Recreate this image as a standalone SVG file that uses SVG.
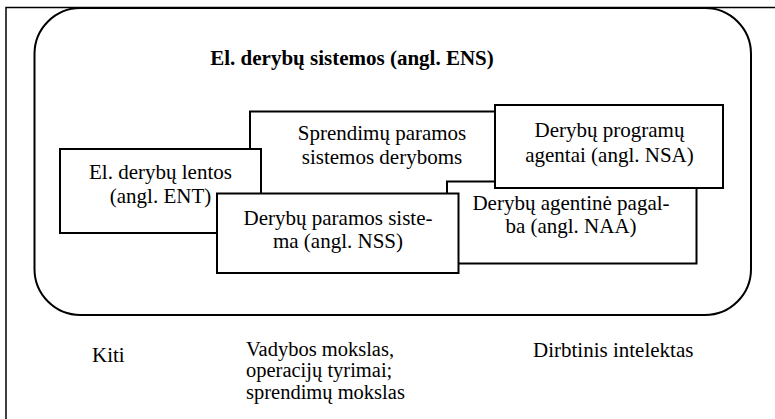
<svg xmlns="http://www.w3.org/2000/svg" width="775" height="419" viewBox="0 0 775 419">
  <style>
    .box { fill: #fff; stroke: #000; stroke-width: 2; }
  </style>
  <rect width="775" height="419" fill="#fff"/>
  <!-- page frame (continues past the right and bottom edges) -->
  <rect x="6" y="7.5" width="800" height="450" fill="none" stroke="#000" stroke-width="1.5"/>
  <!-- ENS area -->
  <g id="ens">
    <rect class="box" x="34.5" y="8" width="716.5" height="307" rx="46" ry="46"/>
    <text x="352" y="65" text-anchor="middle" font-weight="bold" font-family="Liberation Serif" font-size="21">El. dery&#98;&#371; sistemos (angl. ENS)</text>
  </g>
  <g id="sprendimu-paramos">
    <rect class="box" x="250" y="111.5" width="264" height="110"/>
    <text x="382" y="139.5" text-anchor="middle" font-family="Liberation Serif" font-size="21">Sprendim&#371; paramos</text>
    <text x="382" y="163.5" text-anchor="middle" font-family="Liberation Serif" font-size="21">sistemos deryboms</text>
  </g>
  <g id="ent">
    <rect class="box" x="60" y="149" width="201" height="84"/>
    <text x="160.5" y="179" text-anchor="middle" font-family="Liberation Serif" font-size="21">El. dery&#98;&#371; lentos</text>
    <text x="160.5" y="203.3" text-anchor="middle" font-family="Liberation Serif" font-size="21">(angl. ENT)</text>
  </g>
  <g id="naa">
    <rect class="box" x="447" y="181.5" width="249.5" height="82"/>
    <text x="571" y="210" text-anchor="middle" font-family="Liberation Serif" font-size="21">Dery&#98;&#371; agentin&#279; pagal-</text>
    <text x="571" y="233.3" text-anchor="middle" font-family="Liberation Serif" font-size="21">ba (angl. NAA)</text>
  </g>
  <g id="nss">
    <rect class="box" x="217" y="193.5" width="241.5" height="79.5"/>
    <text x="338" y="225" text-anchor="middle" font-family="Liberation Serif" font-size="21">Dery&#98;&#371; paramos siste-</text>
    <text x="338" y="248.3" text-anchor="middle" font-family="Liberation Serif" font-size="21">ma (angl. NSS)</text>
  </g>
  <g id="nsa">
    <rect class="box" x="495" y="105" width="228" height="83"/>
    <text x="609.5" y="136.7" text-anchor="middle" font-family="Liberation Serif" font-size="21">Dery&#98;&#371; program&#371;</text>
    <text x="609.5" y="161.7" text-anchor="middle" font-family="Liberation Serif" font-size="21">agentai (angl. NSA)</text>
  </g>
  <!-- fields below the area -->
  <g id="kiti">
    <text x="92" y="362" font-family="Liberation Serif" font-size="21">Kiti</text>
  </g>
  <g id="vadybos">
    <text x="246" y="355.5" font-family="Liberation Serif" font-size="20.5">Vadybos mokslas,</text>
    <text x="246" y="377" font-family="Liberation Serif" font-size="20.5">operacij&#371; tyrimai;</text>
    <text x="246" y="398.5" font-family="Liberation Serif" font-size="20.5">sprendim&#371; mokslas</text>
  </g>
  <g id="dirbtinis">
    <text x="533" y="356.5" font-family="Liberation Serif" font-size="21">Dirbtinis intelektas</text>
  </g>
  <g id="connectors"></g>
</svg>
